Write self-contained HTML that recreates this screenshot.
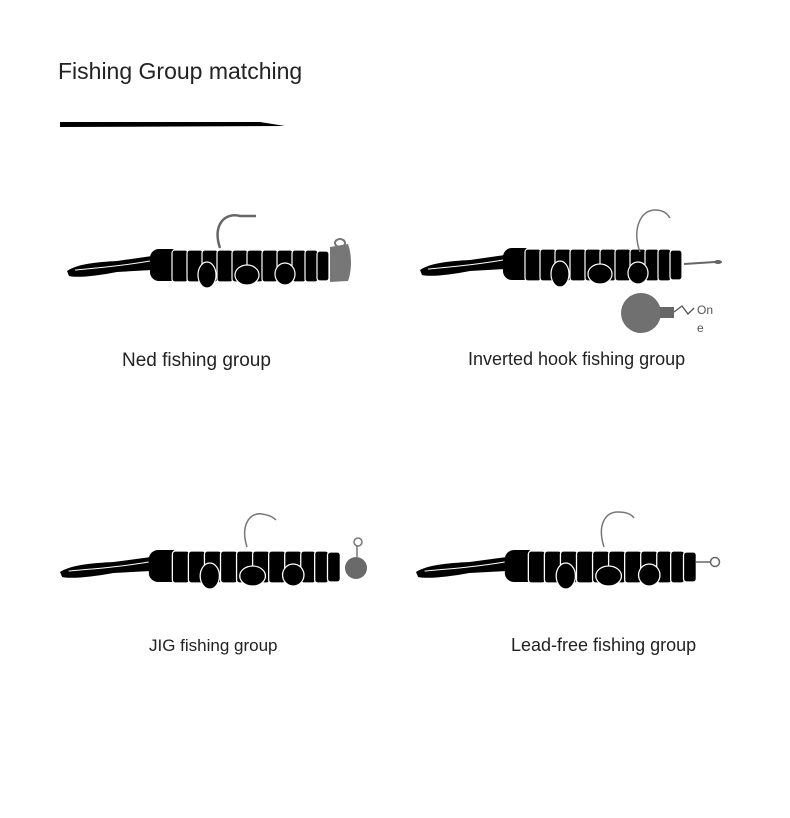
<!DOCTYPE html>
<html><head><meta charset="utf-8"><style>
body{margin:0;background:#fff;width:790px;height:818px;overflow:hidden;font-family:"Liberation Sans",sans-serif}
svg{position:absolute;left:0;top:0}
.t{position:absolute;color:#222;white-space:nowrap}
</style></head><body>
<svg width="790" height="818" viewBox="0 0 790 818">
<defs>
<g id="w">
<path d="M0,5 C10,-2 30,-4 50,-5 L85,-10 L85,4 L50,6 C30,10 10,12 2,10 Z" fill="#000"/>
<path d="M8,4 C30,2 55,0 83,-5" stroke="#fff" stroke-width="1" fill="none"/>
<rect x="83" y="-17" width="30" height="32" rx="9" fill="#000"/>
<g fill="#000" stroke="#fff" stroke-width="1.2">
<rect x="105" y="-16" width="16" height="32" rx="3"/>
<rect x="120" y="-16" width="16" height="32" rx="3"/>
<rect x="135" y="-16" width="16" height="32" rx="3"/>
<rect x="150" y="-16" width="16" height="32" rx="3"/>
<rect x="165" y="-16" width="16" height="32" rx="3"/>
<rect x="180" y="-16" width="16" height="32" rx="3"/>
<rect x="195" y="-16" width="16" height="32" rx="3"/>
<rect x="210" y="-16" width="16" height="32" rx="3"/>
<rect x="225" y="-16" width="14" height="32" rx="3"/>
<rect x="238" y="-16" width="13" height="32" rx="3"/>
<rect x="250" y="-15" width="12" height="30" rx="3"/>
<ellipse cx="140" cy="9" rx="9" ry="13"/>
<ellipse cx="180" cy="9" rx="12" ry="10"/>
<ellipse cx="218" cy="8" rx="10" ry="11"/>
</g>
</g>
</defs>
<path d="M60,122 L260,122 L285,126 L60,127 Z" fill="#000"/>
<use href="#w" transform="translate(67,266)"/>
<path d="M220,248 C212,225 225,212 240,216 L256,216" stroke="#666" stroke-width="2.5" fill="none"/>
<path d="M330,247 L348,244 C352,255 352,270 348,281 L330,282 Z" fill="#777"/>
<ellipse cx="340" cy="243" rx="5" ry="4" fill="none" stroke="#777" stroke-width="2"/>
<use href="#w" transform="translate(420,265) scale(1,1)"/>
<path d="M640,252 C632,230 640,210 655,210 C665,210 668,215 670,218" stroke="#777" stroke-width="1.5" fill="none"/>
<path d="M684,264 L715,262" stroke="#666" stroke-width="2"/>
<ellipse cx="718" cy="262" rx="4" ry="2" fill="#666"/>
<circle cx="641" cy="313" r="20" fill="#707070"/>
<rect x="660" y="307" width="14" height="11" fill="#666"/>
<path d="M674,312 L682,306 L688,314 L694,308" stroke="#555" stroke-width="1.3" fill="none"/>
<text x="697" y="314" font-size="12" fill="#555" font-family="Liberation Sans">On</text>
<text x="697" y="332" font-size="12" fill="#555" font-family="Liberation Sans">e</text>
<use href="#w" transform="translate(60,567) scale(1.07,1)"/>
<path d="M247,547 C240,525 250,512 262,514 C270,515 274,518 276,520" stroke="#777" stroke-width="1.5" fill="none"/>
<circle cx="356" cy="568" r="11" fill="#6a6a6a"/>
<path d="M357,557 L357,545" stroke="#777" stroke-width="1.5"/>
<circle cx="358" cy="542" r="4" fill="none" stroke="#777" stroke-width="1.5"/>
<use href="#w" transform="translate(416,567) scale(1.07,1)"/>
<path d="M604,547 C597,525 605,512 618,512 C628,512 632,515 634,518" stroke="#777" stroke-width="1.5" fill="none"/>
<path d="M696,562 L710,562" stroke="#666" stroke-width="1.5"/>
<circle cx="715" cy="562" r="4.5" fill="none" stroke="#666" stroke-width="1.5"/>
</svg>
<div class="t" style="left:58px;top:58px;font-size:23px">Fishing Group matching</div>
<div class="t" style="left:122px;top:350px;font-size:19px">Ned fishing group</div>
<div class="t" style="left:468px;top:349px;font-size:18px">Inverted hook fishing group</div>
<div class="t" style="left:149px;top:636px;font-size:17px">JIG fishing group</div>
<div class="t" style="left:511px;top:635px;font-size:18px">Lead-free fishing group</div>
</body></html>
